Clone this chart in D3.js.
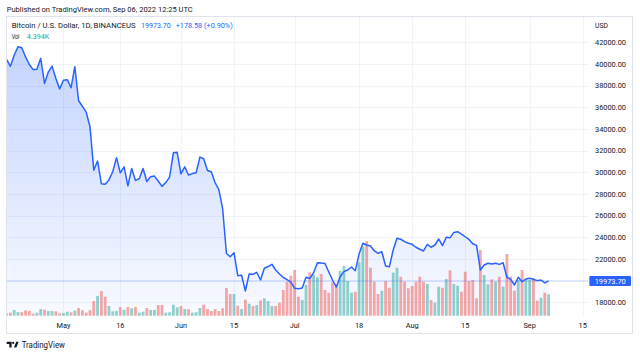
<!DOCTYPE html>
<html><head><meta charset="utf-8">
<script src="https://cdn.jsdelivr.net/npm/d3@7"></script>
<style>html,body{margin:0;padding:0;background:#fff;}svg{display:block;font-family:Roboto,"Liberation Sans",sans-serif;}</style>
</head><body><svg id="c" width="640" height="356"></svg>
<script>
// ---------- data ----------
const startDate = "2022-04-16";
const endAxisDate = "2022-09-15";
const closes = [
  // Apr 16-30
  40430,39785,40800,41590,41500,40650,39950,39480,39520,40520,38200,39250,39800,38650,37700,
  // May
  38500,38550,37800,39750,36600,36100,35550,34200,30200,31050,28950,28900,29300,30050,31350,
  29950,30500,28750,30350,29250,29400,30350,29150,29600,29650,29200,28700,29050,29550,31800,31850,
  // Jun
  29850,30500,29750,29880,29950,31400,31250,30170,30050,29050,28400,26650,22500,22200,22580,
  20460,20500,19040,20610,20580,20770,20060,21140,21300,21510,20980,20610,20290,20100,19870,
  // Jul
  19290,19250,19320,20310,20190,20730,21660,21620,21580,20800,20060,19410,20360,20830,20980,
  21260,20920,22460,23450,23290,23200,22760,22520,22670,21350,21290,22830,23910,23820,23600,23450,
  // Aug
  23350,23080,22900,22740,23350,23080,23290,23845,23230,24000,23950,24450,24520,24300,24050,
  23800,23400,23250,20980,21440,21600,21540,21600,21500,21650,20310,20120,19600,20310,19900,20150,
  // Sep 1-6
  20220,20120,20000,20060,19795.12,19973.70
];
const volumesK = [
  0.49,0.62,1.17,0.76,0.70,1.11,0.96,0.41,0.62,1.37,1.23,0.96,0.96,0.88,0.47,
  0.55,0.82,0.70,1.03,1.58,1.11,0.62,1.11,3.01,4.04,5.06,3.90,1.99,0.90,0.96,
  1.78,1.23,1.78,1.52,1.78,0.62,0.82,1.58,1.17,1.17,2.19,2.19,0.62,0.70,2.26,1.72,
  1.99,1.37,1.31,0.62,0.70,1.58,2.26,1.37,0.96,1.37,0.96,1.52,5.68,4.45,4.45,
  2.05,1.37,3.28,2.46,1.99,2.19,3.14,3.57,3.01,1.99,1.99,2.67,5.27,6.97,8.20,
  9.37,3.90,3.22,6.29,8.90,8.34,7.87,8.55,5.27,4.72,6.85,6.44,9.23,10.19,7.11,
  4.72,4.92,10.95,14.15,15.31,9.84,6.97,4.45,5.13,7.11,5.74,8.82,9.84,8.00,6.97,5.62,
  6.09,6.97,8.00,6.97,6.50,3.22,2.67,5.95,5.74,7.52,9.31,6.50,6.15,4.92,9.02,
  7.11,7.32,3.57,13.47,8.34,6.44,7.46,6.97,8.00,5.95,12.65,8.00,5.13,7.32,9.37,7.46,
  7.32,7.67,3.08,3.69,4.72,4.394
];
const closeBeforeStart = 40550;
const priceTicks = [18000,20000,22000,24000,26000,28000,30000,32000,34000,36000,38000,40000,42000];
const dateTicks = ["2022-05-01","2022-05-16","2022-06-01","2022-06-15","2022-07-01","2022-07-18","2022-08-01","2022-08-15","2022-09-01","2022-09-15"];
const dateTickLabels = ["May","16","Jun","15","Jul","18","Aug","15","Sep","15"];
const publishedText = "Published on TradingView.com, Sep 06, 2022 12:25 UTC";
const symbolTitle = "Bitcoin / U.S. Dollar, 1D, BINANCEUS";
const currencyLabel = "USD";
const brandText = "TradingView";

// ---------- drawing ----------
const svg = d3.select("#c");
const DAY = 86400000;
const t0 = Date.parse(startDate + "T00:00:00Z");
const dates = closes.map((_, i) => new Date(t0 + i * DAY));
const data = closes.map((c, i) => ({
  date: dates[i], close: c, vol: volumesK[i],
  up: c >= (i === 0 ? closeBeforeStart : closes[i - 1])
}));

const plot = {left: 6.5, right: 588, top: 17, bottom: 316};
const x = d3.scaleUtc()
  .domain([new Date(t0), new Date(Date.parse(endAxisDate + "T00:00:00Z"))])
  .range([6.6, 582.7]);
const y = d3.scaleLinear().domain([18000, 42000]).range([302.3, 42.3]);
const yv = d3.scaleLinear().domain([0, 16]).range([315.7, 237.7]);

const defs = svg.append("defs");
const grad = defs.append("linearGradient").attr("id", "g").attr("gradientUnits", "userSpaceOnUse")
  .attr("x1", 0).attr("x2", 0).attr("y1", y(42000)).attr("y2", plot.bottom);
grad.append("stop").attr("offset", 0).attr("stop-color", "#2962FF").attr("stop-opacity", 0.28);
grad.append("stop").attr("offset", 1).attr("stop-color", "#2962FF").attr("stop-opacity", 0.03);
defs.append("clipPath").attr("id", "clip").append("rect")
  .attr("x", plot.left).attr("y", plot.top).attr("width", plot.right - plot.left).attr("height", plot.bottom - plot.top);

const gridColor = "#f0f3fa";
// horizontal grid
svg.append("g").selectAll("line").data(priceTicks).join("line")
  .attr("x1", plot.left).attr("x2", plot.right)
  .attr("y1", d => Math.round(y(d)) + 0.5).attr("y2", d => Math.round(y(d)) + 0.5)
  .attr("stroke", gridColor).attr("stroke-width", 1);
// vertical grid
const tickDates = dateTicks.map(s => new Date(Date.parse(s + "T00:00:00Z")));
svg.append("g").selectAll("line").data(tickDates).join("line")
  .attr("x1", d => Math.round(x(d)) + 0.5).attr("x2", d => Math.round(x(d)) + 0.5)
  .attr("y1", plot.top).attr("y2", plot.bottom)
  .attr("stroke", gridColor).attr("stroke-width", 1);

const g = svg.append("g").attr("clip-path", "url(#clip)");
// area
g.append("path").datum(data)
  .attr("d", d3.area().x(d => x(d.date)).y0(plot.bottom).y1(d => y(d.close)))
  .attr("fill", "url(#g)");
// volume bars
const bw = 2.8;
g.append("g").selectAll("rect").data(data).join("rect")
  .attr("x", d => x(d.date) - bw / 2).attr("width", bw)
  .attr("y", d => yv(d.vol)).attr("height", d => yv(0) - yv(d.vol))
  .attr("fill", d => d.up ? "#26a69a" : "#ef5350").attr("fill-opacity", 0.5);
// current price dotted line
const last = data[data.length - 1];
g.append("line").attr("x1", plot.left).attr("x2", plot.right)
  .attr("y1", y(last.close)).attr("y2", y(last.close))
  .attr("stroke", "#2962FF").attr("stroke-opacity", 0.5).attr("stroke-dasharray", "1 1").attr("stroke-width", 1);
// line
g.append("path").datum(data)
  .attr("d", d3.line().x(d => x(d.date)).y(d => y(d.close)))
  .attr("fill", "none").attr("stroke", "#2962FF").attr("stroke-width", 1.5).attr("stroke-linejoin", "round");

// frame
const frameColor = "#e0e3eb";
svg.append("rect").attr("x", 6.5).attr("y", 16.5).attr("width", 626).attr("height", 317)
  .attr("fill", "none").attr("stroke", frameColor).attr("stroke-width", 1);

// price axis labels
const axisColor = "#131722";
const fs = 7.4;
svg.append("g").selectAll("text").data(priceTicks.filter(v => Math.abs(y(v) - y(last.close)) > 8)).join("text")
  .attr("x", 595).attr("y", d => y(d) + 2.6)
  .attr("font-size", fs).attr("fill", axisColor)
  .text(d => d3.format(".2f")(d));
svg.append("text").attr("x", 595).attr("y", 27.6).attr("font-size", fs - 0.6).attr("fill", axisColor).text(currencyLabel);
// current price label
svg.append("rect").attr("x", 589.3).attr("y", y(last.close) - 5).attr("width", 41.7).attr("height", 10)
  .attr("fill", "#2962FF").attr("rx", 1);
svg.append("text").attr("x", 610.2).attr("y", y(last.close) + 2.7).attr("text-anchor", "middle")
  .attr("font-size", fs).attr("fill", "#fff").text(d3.format(".2f")(last.close));

// time axis labels
svg.append("g").selectAll("text").data(tickDates).join("text")
  .attr("x", d => x(d)).attr("y", 328.4).attr("text-anchor", "middle")
  .attr("font-size", fs).attr("fill", axisColor)
  .text((d, i) => dateTickLabels[i]);

// header
svg.append("text").attr("x", 6.7).attr("y", 11.6).attr("font-size", 7.6).attr("fill", axisColor)
  .attr("textLength", 186).attr("lengthAdjust", "spacingAndGlyphs").text(publishedText);
svg.append("text").attr("x", 11.7).attr("y", 28.4).attr("font-size", 7.6).attr("fill", axisColor)
  .attr("textLength", 124).attr("lengthAdjust", "spacingAndGlyphs").text(symbolTitle);
const prev = closes[closes.length - 2];
const chg = last.close - prev;
svg.append("text").attr("x", 141).attr("y", 28.4).attr("font-size", 7.6).attr("fill", "#2962FF")
  .attr("textLength", 29.7).attr("lengthAdjust", "spacingAndGlyphs").text(d3.format(".2f")(last.close));
svg.append("text").attr("x", 175.7).attr("y", 28.4).attr("font-size", 7.6).attr("fill", "#2962FF")
  .attr("textLength", 57).attr("lengthAdjust", "spacingAndGlyphs")
  .text((chg >= 0 ? "+" : "") + d3.format(".2f")(chg) + " (" + (chg >= 0 ? "+" : "") + d3.format(".2f")(chg / prev * 100) + "%)");
svg.append("text").attr("x", 11.7).attr("y", 39.4).attr("font-size", 7.6).attr("fill", axisColor)
  .attr("textLength", 7.6).attr("lengthAdjust", "spacingAndGlyphs").text("Vol");
svg.append("text").attr("x", 26.7).attr("y", 39.4).attr("font-size", 7.6).attr("fill", "#26a69a")
  .attr("textLength", 22.6).attr("lengthAdjust", "spacingAndGlyphs").text(d3.format(".3f")(last.vol) + "K");

// brand
const logo = svg.append("g").attr("fill", "#131722");
logo.append("path").attr("d", "M6.7 341.8 H11.6 V347.4 H9.3 V343.9 H6.7 Z");
logo.append("circle").attr("cx", 13.2).attr("cy", 342.9).attr("r", 1.1);
logo.append("path").attr("d", "M16.2 341.8 H18.6 L16.4 347.4 H14.0 Z");
svg.append("text").attr("x", 21.7).attr("y", 348.2).attr("font-size", 8.8).attr("fill", "#131722")
  .attr("textLength", 43.3).attr("lengthAdjust", "spacingAndGlyphs").text(brandText);
</script></body></html>
